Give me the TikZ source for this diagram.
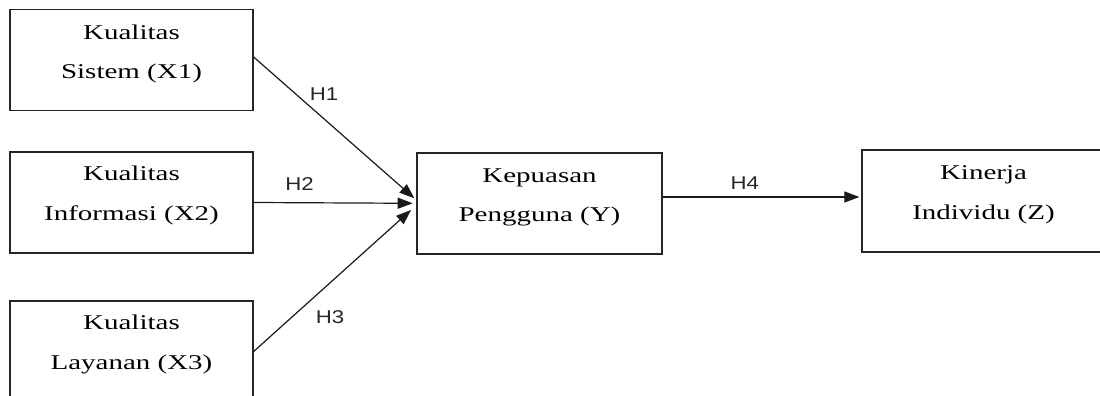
\documentclass[tikz,border=0pt]{standalone}
\usepackage{fontspec}
\setmainfont{Liberation Serif}
\newfontfamily\hfont{Liberation Sans}
\usepackage{graphicx}
\usetikzlibrary{arrows.meta}
\newcommand{\sxs}[1]{\scalebox{1.38}[1]{#1}}
\newcommand{\sxh}[1]{\scalebox{1.2}[1]{#1}}
\tikzset{
  box/.style={draw=black!85, line width=1.3pt, minimum width=243pt, minimum height=101pt, inner sep=0pt},
  txt/.style={anchor=base, inner sep=0pt, font=\fontsize{21}{24}\selectfont},
  hl/.style={anchor=base, inner sep=0pt, font=\hfont\fontsize{18.5}{20}\selectfont, text=black!85},
  arr/.style={draw=black!90, line width=1.2pt, -{Triangle[length=15pt,width=11pt]}}
}
\begin{document}
\begin{tikzpicture}[x=1pt,y=1pt]
\useasboundingbox (0,0) rectangle (1100,396);
\clip (0,0) rectangle (1100,396);
% boxes
\node[box] (x1) at (131.5,336) {};
\node[box] (x2) at (131.5,193.5) {};
\node[box] (x3) at (131.5,44.5) {};
\node[box, minimum width=245pt] (y) at (539.5,192.5) {};
\node[box, minimum height=102pt] (z) at (983.5,195) {};
% texts
\node[txt] (x1a) at (131.5,356) {\sxs{Kualitas}};
\node[txt] (x1b) at (131.5,317) {\sxs{Sistem (X1)}};
\node[txt] (x2a) at (131.5,215.3) {\sxs{Kualitas}};
\node[txt] (x2b) at (131.5,175.3) {\sxs{Informasi (X2)}};
\node[txt] (x3a) at (131.5,66) {\sxs{Kualitas}};
\node[txt] (x3b) at (131.5,26) {\sxs{Layanan (X3)}};
\node[txt] (ya) at (539.5,213.3) {\sxs{Kepuasan}};
\node[txt] (yb) at (539.5,174.3) {\sxs{Pengguna (Y)}};
\node[txt] (za) at (983.5,216.7) {\sxs{Kinerja}};
\node[txt] (zb) at (983.5,176) {\sxs{Individu (Z)}};
% arrows
\draw[arr] ([yshift=3pt]x1.east) -- ([xshift=-2pt,yshift=5.2pt]y.west);
\draw[arr] (x2.east) -- ([xshift=-3.7pt,yshift=0.2pt]y.west);
\draw[arr] (x3.east) -- ([xshift=-5.3pt,yshift=-6.5pt]y.west);
\coordinate (h4s) at ([yshift=6.5pt]y.east);
\draw[arr] (h4s) -- ([xshift=-2pt]h4s -| z.west);
% labels
\node[hl] (h1) at (324,295.3) {\sxh{H1}};
\node[hl] (h2) at (299.5,205.3) {\sxh{H2}};
\node[hl] (h3) at (330,72) {\sxh{H3}};
\node[hl] (h4) at (744.7,206) {\sxh{H4}};
\end{tikzpicture}
\end{document}
